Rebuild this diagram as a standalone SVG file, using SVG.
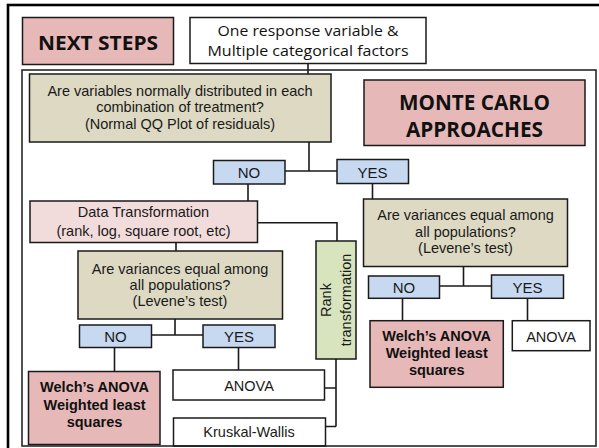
<svg xmlns="http://www.w3.org/2000/svg" width="599" height="448" viewBox="0 0 599 448">
<style>
.box{stroke:#1a1a1a;stroke-width:1.5}
.pink{fill:#e6b8b7}
.tan{fill:#ddd9c3}
.blue{fill:#c6d9f1}
.lpink{fill:#f2dcdb}
.green{fill:#d7e4bd}
.white{fill:#ffffff}
.t{font-family:"Liberation Sans",Arial,sans-serif;font-size:14.5px;fill:#1a1a1a;text-anchor:middle}
.yn{font-size:15px}
.b{font-weight:bold;fill:#111}
.c{font-family:"Open Sans","Noto Sans",sans-serif;text-anchor:middle;fill:#111}
.conn{stroke:#1a1a1a;stroke-width:1.6;fill:none}
</style>
<rect x="0" y="0" width="599" height="448" fill="#ffffff"/>
<rect x="8" y="5" width="600" height="460" fill="none" stroke="#000" stroke-width="2.6"/>

<g id="connectors">
<path class="conn" d="M308 63V74"/>
<path class="conn" d="M309 142V171M285 171H337"/>
<path class="conn" d="M248 184V201"/>
<path class="conn" d="M372.5 183V199"/>
<path class="conn" d="M257.5 222.7H337V241"/>
<path class="conn" d="M176 242V251"/>
<path class="conn" d="M175 319V335M151.5 335H203"/>
<path class="conn" d="M114.5 347.5V371.5"/>
<path class="conn" d="M238.5 347.5V370"/>
<path class="conn" d="M336 359V426.5M325 388H336M325.5 426.5H336"/>
<path class="conn" d="M463.5 266.5V286M439.5 286H491.5"/>
<path class="conn" d="M402.5 298.3V320.7"/>
<path class="conn" d="M527.5 298.3V320.7"/>
</g>

<g id="next-steps">
<rect class="box pink" x="22.5" y="17.5" width="151" height="47"/>
<text class="c b" x="98" y="50" font-size="19" textLength="120" lengthAdjust="spacingAndGlyphs">NEXT STEPS</text>
</g>

<g id="start">
<rect class="box white" x="190" y="17.5" width="236" height="46"/>
<text class="c" x="308" y="36" font-size="15" textLength="181" lengthAdjust="spacingAndGlyphs">One response variable &amp;</text>
<text class="c" x="308" y="55.5" font-size="15" textLength="201" lengthAdjust="spacingAndGlyphs">Multiple categorical factors</text>
</g>

<g id="q-normal">
<rect class="box tan" x="29.5" y="74" width="301.5" height="68"/>
<text class="t" x="180" y="95.5">Are variables normally distributed in each</text>
<text class="t" x="180" y="112">combination of treatment?</text>
<text class="t" x="180" y="128.5">(Normal QQ Plot of residuals)</text>
</g>

<g id="monte-carlo">
<rect class="box pink" x="364" y="80" width="221" height="65.5"/>
<text class="c b" x="474.5" y="109.5" font-size="21" textLength="151" lengthAdjust="spacingAndGlyphs">MONTE CARLO</text>
<text class="c b" x="474.5" y="136.5" font-size="21" textLength="137" lengthAdjust="spacingAndGlyphs">APPROACHES</text>
</g>

<g id="no-1">
<rect class="box blue" x="213.5" y="160.5" width="71.5" height="23.5"/>
<text class="t yn" x="249" y="178">NO</text>
</g>

<g id="yes-1">
<rect class="box blue" x="337" y="159.5" width="71.5" height="24"/>
<text class="t yn" x="372.5" y="177.5">YES</text>
</g>

<g id="data-transformation">
<rect class="box lpink" x="30" y="201" width="227.5" height="41.5"/>
<text class="t" x="143.5" y="217">Data Transformation</text>
<text class="t" x="143.5" y="235.5">(rank, log, square root, etc)</text>
</g>

<g id="rank-transformation">
<rect class="box green" x="316" y="241" width="40" height="118"/>
<text class="t" transform="translate(331 300) rotate(-90)" x="0" y="0">Rank</text>
<text class="t" transform="translate(350.5 300) rotate(-90)" x="0" y="0">transformation</text>
</g>

<g id="q-levene-left">
<rect class="box tan" x="78" y="251" width="204.5" height="68"/>
<text class="t" x="180" y="273.5">Are variances equal among</text>
<text class="t" x="180" y="290">all populations?</text>
<text class="t" x="180" y="306">(Levene’s test)</text>
</g>

<g id="no-2">
<rect class="box blue" x="79.5" y="325" width="72" height="22.5"/>
<text class="t yn" x="115.5" y="342">NO</text>
</g>

<g id="yes-2">
<rect class="box blue" x="203" y="325" width="72" height="22.5"/>
<text class="t yn" x="239" y="342">YES</text>
</g>

<g id="welch-left">
<rect class="box pink" x="28.5" y="371.5" width="131.5" height="73"/>
<text class="t b" x="94.5" y="391.5">Welch’s ANOVA</text>
<text class="t b" x="94.5" y="409.5">Weighted least</text>
<text class="t b" x="94.5" y="426.5">squares</text>
</g>

<g id="anova-left">
<rect class="box white" x="173" y="370" width="151.5" height="30"/>
<text class="t" x="249" y="391" font-size="14">ANOVA</text>
</g>

<g id="kruskal-wallis">
<rect class="box white" x="173.5" y="418" width="152" height="28"/>
<text class="t" x="249" y="436.5" font-size="16">Kruskal-Wallis</text>
</g>

<g id="q-levene-right">
<rect class="box tan" x="363.5" y="199" width="204" height="67.5"/>
<text class="t" x="465.5" y="220">Are variances equal among</text>
<text class="t" x="465.5" y="237">all populations?</text>
<text class="t" x="465.5" y="253">(Levene’s test)</text>
</g>

<g id="no-3">
<rect class="box blue" x="368.5" y="276" width="71" height="22.3"/>
<text class="t yn" x="404" y="293">NO</text>
</g>

<g id="yes-3">
<rect class="box blue" x="491.5" y="275" width="72" height="23.3"/>
<text class="t yn" x="527.5" y="292.5">YES</text>
</g>

<g id="welch-right">
<rect class="box pink" x="370" y="320.7" width="133.3" height="66.6"/>
<text class="t b" x="436.7" y="340.5">Welch’s ANOVA</text>
<text class="t b" x="436.7" y="357.5">Weighted least</text>
<text class="t b" x="436.7" y="375">squares</text>
</g>

<g id="anova-right">
<rect class="box white" x="512.3" y="320.7" width="77.7" height="30"/>
<text class="t" x="551" y="341.5" font-size="14">ANOVA</text>
</g>

<rect x="22" y="70" width="574" height="376" fill="none" stroke="#1a1a1a" stroke-width="1.5"/>
</svg>
